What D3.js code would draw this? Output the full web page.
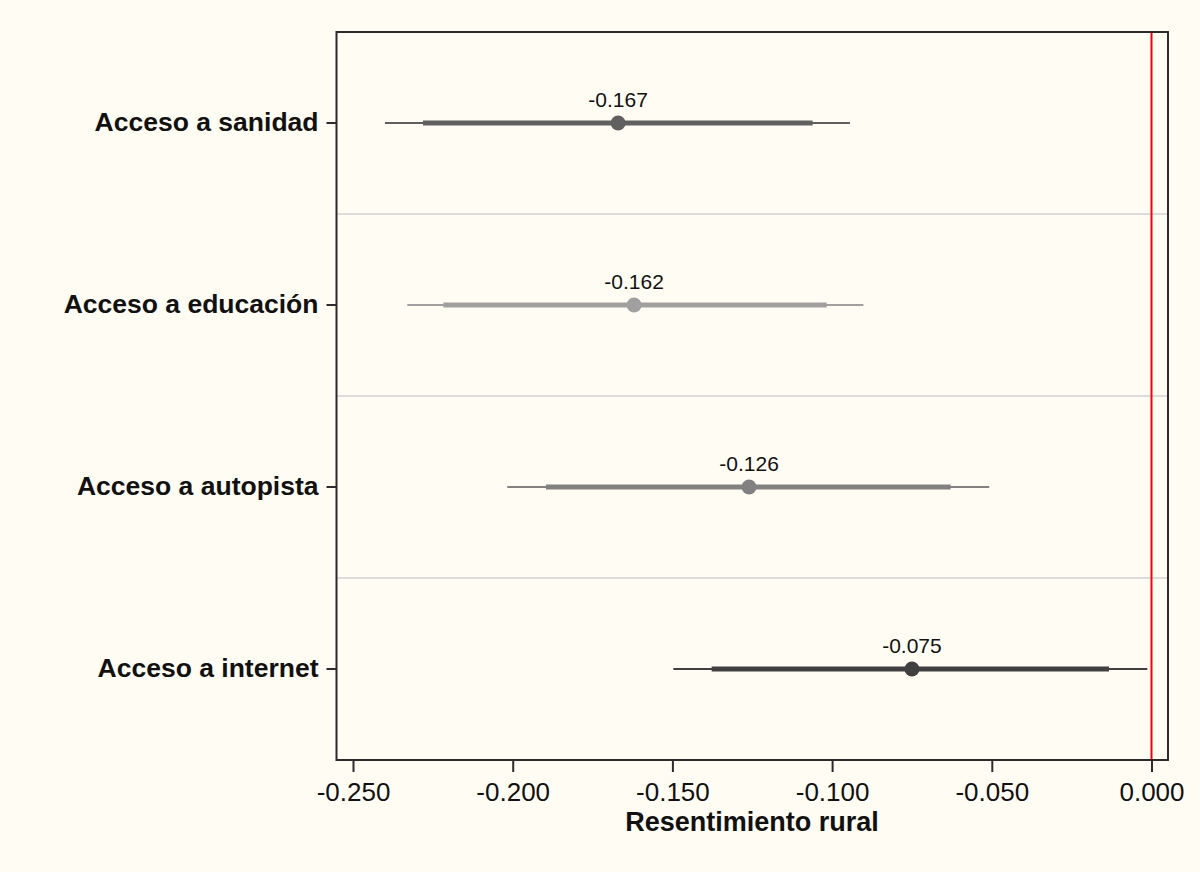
<!DOCTYPE html>
<html>
<head>
<meta charset="utf-8">
<script src="https://cdn.jsdelivr.net/npm/d3@7"></script>
<style>
  html, body { margin: 0; padding: 0; background: #fffcf4; }
  svg { display: block; }
</style>
</head>
<body>
<svg id="chart" width="1200" height="872"></svg>
<script>
// ---- data ----
const categories = ["Acceso a sanidad", "Acceso a educación", "Acceso a autopista", "Acceso a internet"];
const estimates  = [-0.167, -0.162, -0.126, -0.075];
const ci95Low    = [-0.240, -0.233, -0.2017, -0.1497];
const ci95High   = [-0.0944, -0.0902, -0.0508, -0.0013];
const ci90Low    = [-0.2281, -0.2217, -0.1896, -0.1377];
const ci90High   = [-0.1061, -0.1017, -0.0629, -0.0133];
const pointLabels = ["-0.167", "-0.162", "-0.126", "-0.075"];
const seriesColors = ["#606060", "#a0a0a0", "#818181", "#404040"];
const xTicks = [-0.25, -0.20, -0.15, -0.10, -0.05, 0.0];
const xTitle = "Resentimiento rural";

// ---- layout ----
const svg = d3.select("#chart");
const box = { left: 336.5, right: 1168, top: 32, bottom: 760 };

const x = d3.scaleLinear().domain([-0.25, 0]).range([353, 1151.5]);
const y = d3.scaleBand().domain(categories).range([box.top, box.bottom]).paddingInner(0).paddingOuter(0);

const data = categories.map((c, i) => ({
  cat: c, est: estimates[i], lo95: ci95Low[i], hi95: ci95High[i],
  lo90: ci90Low[i], hi90: ci90High[i], label: pointLabels[i], color: seriesColors[i]
}));

// separators between categories
svg.append("g").selectAll("line")
  .data(categories.slice(1))
  .join("line")
  .attr("x1", box.left).attr("x2", box.right)
  .attr("y1", d => y(d)).attr("y2", d => y(d))
  .attr("stroke", "#dcdcdc").attr("stroke-width", 2);

// reference line at zero
svg.append("line")
  .attr("x1", x(0)).attr("x2", x(0))
  .attr("y1", box.top).attr("y2", box.bottom)
  .attr("stroke", "#ff0000").attr("stroke-width", 2);

// frame
svg.append("rect")
  .attr("x", box.left).attr("y", box.top)
  .attr("width", box.right - box.left).attr("height", box.bottom - box.top)
  .attr("fill", "none").attr("stroke", "#2b2b2b").attr("stroke-width", 2);

// x axis
const xAxis = d3.axisBottom(x).tickValues(xTicks).tickFormat(d3.format(".3f")).tickSize(12).tickSizeOuter(0);
const gx = svg.append("g").attr("transform", `translate(0,${box.bottom})`).call(xAxis);
gx.select(".domain").remove();
gx.selectAll(".tick line").attr("stroke", "#2b2b2b").attr("stroke-width", 2);
gx.selectAll(".tick text")
  .attr("y", 23).attr("dy", "0.71em")
  .attr("fill", "#111")
  .style("font-family", "'Liberation Sans', Arial, sans-serif")
  .style("font-size", "26px")
  .text(d => d3.format(".3f")(d).replace("−", "-"));

// x title
svg.append("text")
  .attr("x", 752).attr("y", 831)
  .attr("text-anchor", "middle")
  .style("font-family", "'Liberation Sans', Arial, sans-serif")
  .style("font-size", "27px").style("font-weight", "bold")
  .attr("fill", "#111")
  .text(xTitle);

// y axis
const yAxis = d3.axisLeft(y).tickSize(10).tickSizeOuter(0).tickPadding(8);
const gy = svg.append("g").attr("transform", `translate(${box.left},0)`).call(yAxis);
gy.select(".domain").remove();
gy.selectAll(".tick line").attr("stroke", "#2b2b2b").attr("stroke-width", 2);
gy.selectAll(".tick text")
  .attr("fill", "#111")
  .style("font-family", "'Liberation Sans', Arial, sans-serif")
  .style("font-size", "26.5px").style("font-weight", "bold");

// estimates
const g = svg.append("g");
const rows = g.selectAll("g.row").data(data).join("g").attr("class", "row")
  .attr("transform", d => `translate(0,${y(d.cat) + y.bandwidth() / 2})`);

rows.append("line")
  .attr("x1", d => x(d.lo95)).attr("x2", d => x(d.hi95))
  .attr("y1", 0).attr("y2", 0)
  .attr("stroke", d => d.color).attr("stroke-width", 2);

rows.append("line")
  .attr("x1", d => x(d.lo90)).attr("x2", d => x(d.hi90))
  .attr("y1", 0).attr("y2", 0)
  .attr("stroke", d => d.color).attr("stroke-width", 5);

rows.append("circle")
  .attr("cx", d => x(d.est)).attr("cy", 0).attr("r", 7.5)
  .attr("fill", d => d.color);

rows.append("text")
  .attr("x", d => x(d.est)).attr("y", -16)
  .attr("text-anchor", "middle")
  .style("font-family", "'Liberation Sans', Arial, sans-serif")
  .style("font-size", "21px")
  .attr("fill", "#111")
  .text(d => d.label);
</script>
</body>
</html>
